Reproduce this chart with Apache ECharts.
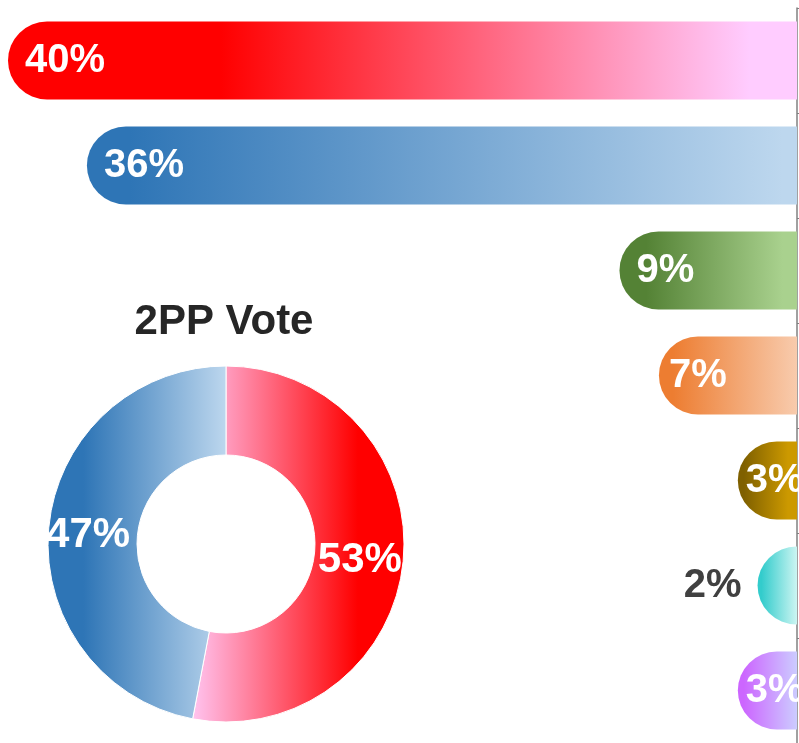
<!DOCTYPE html>
<html><head><meta charset="utf-8">
<script src="https://cdn.jsdelivr.net/npm/echarts@6/dist/echarts.min.js"></script>
<style>html,body{margin:0;padding:0;background:#fff}#c{width:799px;height:743px}</style>
</head><body><div id="c"></div>
<script>
// Primary vote bars (top to bottom)
const parties = ['ALP', 'L/NP', 'GRN', 'ONP', 'UAP', 'IND', 'OTH'];
const primaryVote = [40, 36, 9, 7, 3, 2, 3];
const barDark = ['#ff0000', '#2e75b6', '#548235', '#ed7d31', '#7f6000', '#33cccc', '#cc66ff'];
const barLight = ['#ffccff', '#bdd7ee', '#a9d18e', '#f8cbad', '#cc9900', '#ccf5f2', '#ccccff'];
// Two-party preferred
const tppNames = ['ALP', 'L/NP'];
const tppVote = [53, 47];
const pieTitle = '2PP Vote';

const FONT = 'Arial, "Liberation Sans", sans-serif';

function grad(stops) {
  return { type: 'linear', x: 0, y: 0, x2: 1, y2: 0, global: false,
    colorStops: stops.map(s => ({ offset: s[0], color: s[1] })) };
}

const barStops = [
  [[0, barDark[0]], [0.27, barDark[0]], [0.94, barLight[0]], [1, barLight[0]]],
  [[0, barDark[1]], [0.06, barDark[1]], [0.98, barLight[1]], [1, barLight[1]]],
  [[0, barDark[2]], [0.15, barDark[2]], [0.92, barLight[2]], [1, barLight[2]]],
  [[0, barDark[3]], [0.1, barDark[3]], [1, barLight[3]]],
  [[0, barDark[4]], [0.1, barDark[4]], [0.85, barLight[4]], [1, barLight[4]]],
  [[0, barDark[5]], [0.1, barDark[5]], [1, barLight[5]]],
  [[0, barDark[6]], [0.1, barDark[6]], [1, barLight[6]]]
];
const labelDist = [17, 17, 17, 10, 8, 16, 8];

const barData = primaryVote.map((v, i) => {
  const item = {
    value: v,
    itemStyle: { color: grad(barStops[i]), borderRadius: [39, 0, 0, 39] },
    label: { distance: labelDist[i] }
  };
  if (v < 3) {
    item.label = { position: 'left', color: '#404040', distance: labelDist[i] };
  }
  return item;
});

const pieColors = [
  grad([[0, '#ffc4f0'], [0.78, '#ff0000'], [1, '#ff0000']]),
  grad([[0, '#2e75b6'], [0.2, '#2e75b6'], [1, '#bdd7ee']])
];

const chart = echarts.init(document.getElementById('c'), null, { renderer: 'canvas' });
chart.setOption({
  animation: false,
  textStyle: { fontFamily: FONT },
  grid: { left: 8, right: 2, top: 8, bottom: 0, containLabel: false },
  xAxis: { type: 'value', inverse: true, min: 0, max: 40, show: false },
  yAxis: {
    type: 'category', data: parties, position: 'right', inverse: true,
    axisLine: { show: true, lineStyle: { color: '#808080', width: 1.5 } },
    axisTick: { show: true, length: 5, lineStyle: { color: '#808080' } },
    axisLabel: { show: false }, splitLine: { show: false }
  },
  graphic: [{
    type: 'text', x: 224, y: 322, z: 10,
    style: { text: pieTitle, font: 'bold 42px ' + FONT, fill: '#262626',
      align: 'center', verticalAlign: 'middle', textAlign: 'center', textVerticalAlign: 'middle' }
  }],
  series: [{
    type: 'bar', data: barData, barWidth: 78,
    label: { show: true, position: 'insideLeft', formatter: '{c}%', color: '#ffffff',
      fontSize: 40, fontWeight: 'bold', fontFamily: FONT },
    emphasis: { disabled: true }
  }, {
    type: 'pie', center: [226, 544], radius: [89, 178], startAngle: 90, clockwise: true,
    data: tppVote.map((v, i) => ({ name: tppNames[i], value: v, itemStyle: { color: pieColors[i] } })),
    itemStyle: { borderColor: '#ffffff', borderWidth: 1 },
    label: { show: true, position: 'inside', formatter: '{c}%', color: '#ffffff',
      fontSize: 42, fontWeight: 'bold', fontFamily: FONT, offset: [-2, 4] },
    labelLine: { show: false },
    emphasis: { disabled: true }
  }]
});
</script></body></html>
